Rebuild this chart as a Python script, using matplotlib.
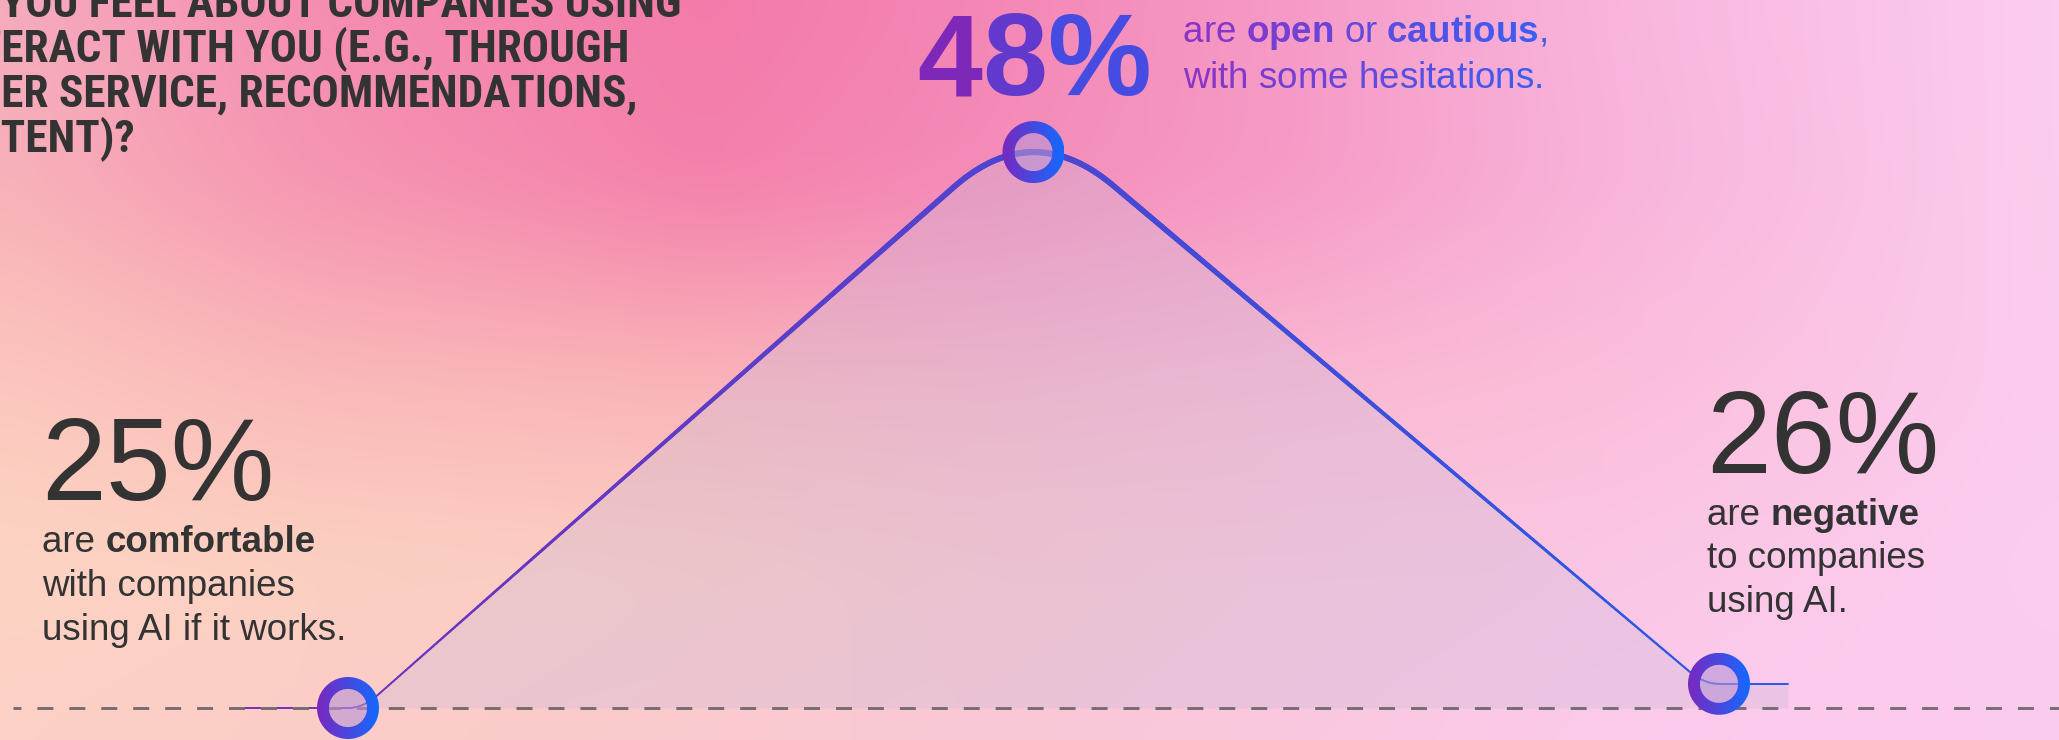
import numpy as np
import matplotlib
matplotlib.use("Agg")
import matplotlib.pyplot as plt
from matplotlib import font_manager
from matplotlib.collections import LineCollection
from matplotlib.patches import PathPatch, Polygon
from matplotlib.path import Path

# ------------------------------------------------------------------ data
segments = ["comfortable", "open or cautious", "negative"]
shares = [25, 48, 26]
share_labels = ["25%", "48%", "26%"]

question_lines = [
    "HOW DO YOU FEEL ABOUT COMPANIES USING",
    "AI TO INTERACT WITH YOU (E.G., THROUGH",
    "CUSTOMER SERVICE, RECOMMENDATIONS,",
    "CONTENT)?",
]
# characters of each question line that run off the left edge of the card
question_offscreen = [7, 9, 6, 3]

captions = [
    [[("are ", "normal"), ("comfortable", "bold")],
     [("with companies", "normal")],
     [("using AI if it works.", "normal")]],
    [[("are ", "normal"), ("open", "bold"), (" or ", "normal"),
      ("cautious", "bold"), (",", "normal")],
     [("with some hesitations.", "normal")]],
    [[("are ", "normal"), ("negative", "bold")],
     [("to companies", "normal")],
     [("using AI.", "normal")]],
]

# ---------------------------------------------------------------- layout
W, H, DPI = 2059, 740, 100
plt.rcParams["lines.scale_dashes"] = False

X0_PX, STEP_PX = 348.0, 685.5      # pixel column of first category, step
Y25_PX, PP_PX = 708.0, 24.17        # pixel row of the lowest share, px per point
v_low = min(shares)
XLIM = (-X0_PX / STEP_PX, (W - X0_PX) / STEP_PX)
YLIM = (v_low - (H - Y25_PX) / PP_PX, v_low + Y25_PX / PP_PX)
LEAD_PX, TAIL_PX = 118, 69          # flat run of the line before/after the points
EASE_PX = [0, 30, 80, 30, 0]        # rounding of the line at each knot

installed = {f.name for f in font_manager.fontManager.ttflist}


def families(*names):
    return [n for n in names if n in installed] + ["DejaVu Sans"]


SANS = families("Liberation Sans", "Arial")
CONDENSED = families("Roboto Condensed", "Open Sans Condensed",
                     "Liberation Sans Narrow", "Liberation Sans")
DARK = "#333333"

fig = plt.figure(figsize=(W / DPI, H / DPI), dpi=DPI)
ax = fig.add_axes([0, 0, 1, 1])
ax.axis("off")

# ------------------------------------------------------------ background
bg_x = [0, 300, 700, 1000, 1300, 1600, 2059]
bg_y = [0, 180, 390, 560, 740]
bg_rgb = np.array([
    [(245, 172, 190), (245, 142, 178), (243, 122, 170), (244, 135, 182), (246, 155, 200), (249, 180, 220), (252, 205, 240)],
    [(248, 178, 185), (246, 150, 178), (244, 128, 172), (244, 140, 185), (246, 155, 198), (248, 178, 218), (252, 205, 238)],
    [(252, 200, 190), (250, 187, 186), (250, 182, 184), (249, 180, 200), (250, 185, 210), (251, 190, 218), (252, 203, 238)],
    [(253, 212, 195), (252, 208, 193), (252, 204, 195), (250, 198, 205), (250, 198, 218), (251, 198, 228), (252, 205, 240)],
    [(252, 208, 198), (252, 205, 200), (251, 202, 208), (251, 200, 215), (251, 200, 225), (252, 202, 235), (252, 203, 240)],
], dtype=float) / 255.0

gx = np.linspace(0, W, 412)
gy = np.linspace(0, H, 148)
rows = np.stack([np.stack([np.interp(gx, bg_x, bg_rgb[r, :, c]) for c in range(3)], -1)
                 for r in range(len(bg_y))])
by = np.array(bg_y, float)
idx = np.clip(np.searchsorted(by, gy, side="right") - 1, 0, len(by) - 2)
w = ((gy - by[idx]) / (by[idx + 1] - by[idx]))[:, None, None]
bg = rows[idx] * (1 - w) + rows[idx + 1] * w


def blur(a, n, axis):
    k = np.ones(n) / n
    pad = [(0, 0)] * a.ndim
    pad[axis] = (n // 2, n - 1 - n // 2)
    a = np.pad(a, pad, mode="edge")
    return np.apply_along_axis(lambda v: np.convolve(v, k, mode="valid"), axis, a)


for _ in range(2):
    bg = blur(bg, 15, 0)
    bg = blur(bg, 15, 1)
ax.imshow(bg, extent=[XLIM[0], XLIM[1], YLIM[0], YLIM[1]], origin="upper",
          aspect="auto", interpolation="bicubic", zorder=0)


# ------------------------------------------------------------ line + fill
def eased_polyline(xs, ys, ease, n=400):
    """Straight segments whose ends flatten out over `ease` (x units) at each knot."""
    out_x, out_y = [], []
    for i in range(len(xs) - 1):
        x0, x1, y0, y1 = xs[i], xs[i + 1], ys[i], ys[i + 1]
        dx, dy = x1 - x0, y1 - y0
        e0, e1 = ease[i], ease[i + 1]
        m = dy / (dx - (e0 + e1) / 2)
        s = np.linspace(0, dx, n)
        if i < len(xs) - 2:
            s = s[:-1]
        v = m * (s - e0 / 2)
        if e0 > 0:
            k = s < e0
            v[k] = m * s[k] ** 2 / (2 * e0)
        if e1 > 0:
            k = s > dx - e1
            v[k] = dy - m * (dx - s[k]) ** 2 / (2 * e1)
        out_x.append(x0 + s)
        out_y.append(y0 + v)
    return np.concatenate(out_x), np.concatenate(out_y)


pos = np.arange(len(shares), dtype=float)
knots_x = np.r_[pos[0] - LEAD_PX / STEP_PX, pos, pos[-1] + TAIL_PX / STEP_PX]
knots_y = np.r_[shares[0], shares, shares[-1]]
cx, cy = eased_polyline(knots_x, knots_y, np.array(EASE_PX) / STEP_PX)

ax.fill_between(cx, cy, v_low, color=(0.80, 0.73, 0.85), alpha=0.33, lw=0, zorder=2)

pts = np.c_[cx, cy]
segs = np.stack([pts[:-1], pts[1:]], axis=1)
mx = (cx[:-1] + cx[1:]) / 2
my = (cy[:-1] + cy[1:]) / 2
f = (mx - cx[0]) / (cx[-1] - cx[0])
c_left = np.array([118, 45, 185]) / 255
c_right = np.array([38, 92, 232]) / 255
seg_colors = c_left[None, :] * (1 - f[:, None]) + c_right[None, :] * f[:, None]
h = (my - min(shares)) / (max(shares) - min(shares))
seg_widths = (1.7 + 4.3 * h) * 72 / DPI
ax.add_collection(LineCollection(segs, colors=seg_colors, linewidths=seg_widths,
                                 capstyle="round", joinstyle="round", zorder=3))

# dashed baseline
ax.plot([(13 - X0_PX) / STEP_PX, XLIM[1]], [v_low, v_low], color=(0.47, 0.43, 0.45),
        lw=3 * 72 / DPI, linestyle=(5.8, (11.5, 11.5)), dash_capstyle="butt", zorder=3.5)


# ---------------------------------------------------------------- markers
def circle_xy(x, y, r_px, reverse=False):
    th = np.linspace(0, 2 * np.pi, 120)
    if reverse:
        th = th[::-1]
    return np.c_[x + r_px * np.cos(th) / STEP_PX, y + r_px * np.sin(th) / PP_PX]


ring_grad = np.linspace(0, 1, 64)[:, None]
ring_left = np.array([122, 40, 190]) / 255
ring_right = np.array([20, 105, 255]) / 255
ring_img = (ring_left * (1 - ring_grad) + ring_right * ring_grad)[None, :, :]

R_OUT, R_IN = 31, 19
for xi, v in zip(pos, shares):
    ax.add_patch(Polygon(circle_xy(xi, v, R_IN), closed=True, fc=(0.72, 0.58, 0.84),
                         alpha=0.6, ec="none", zorder=5))
    outer = circle_xy(xi, v, R_OUT)
    inner = circle_xy(xi, v, R_IN, reverse=True)
    verts = np.r_[outer, inner]
    codes = ([Path.MOVETO] + [Path.LINETO] * (len(outer) - 2) + [Path.CLOSEPOLY]) * 2
    clip = PathPatch(Path(verts, codes), transform=ax.transData, fc="none", ec="none")
    ax.add_patch(clip)
    im = ax.imshow(ring_img, extent=[xi - R_OUT / STEP_PX, xi + R_OUT / STEP_PX,
                                     v - R_OUT / PP_PX, v + R_OUT / PP_PX],
                   aspect="auto", interpolation="bilinear", zorder=6)
    im.set_clip_path(clip)

ax.set_xlim(*XLIM)
ax.set_ylim(*YLIM)

# ------------------------------------------------------------------ texts
renderer = fig.canvas.get_renderer()


def put(x_px, y_px, s, **kw):
    return fig.text(x_px / W, 1 - y_px / H, s, ha="left", va="baseline", **kw)


def advance(s, **kw):
    a = put(0, 0, "H" + s + "H", **kw)
    b = put(0, 0, "HH", **kw)
    wd = a.get_window_extent(renderer).width - b.get_window_extent(renderer).width
    a.remove()
    b.remove()
    return wd


def lerp_color(c0, c1, t):
    t = min(max(t, 0.0), 1.0)
    return tuple((np.array(c0) * (1 - t) + np.array(c1) * t) / 255)


def draw_runs(x, y, runs, size, family, color=None, grad=None):
    """Draw a line made of (text, weight) runs; grad=(x_from, x_to, c0, c1)."""
    cur = x
    for text, weight in runs:
        props = dict(fontsize=size, family=family, fontweight=weight)
        if grad is None:
            put(cur, y, text, color=color, **props)
            cur += advance(text, **props)
        else:
            for ch in text:
                if ch != " ":
                    t = (cur - grad[0]) / (grad[1] - grad[0])
                    put(cur, y, ch, color=lerp_color(grad[2], grad[3], t), **props)
                cur += advance(ch, **props)
    return cur


# question, running off the top-left corner
for line, hidden, base in zip(question_lines, question_offscreen, [17, 62, 107, 152]):
    props = dict(fontsize=32.6, family=CONDENSED, fontweight="bold")
    x = 1 - advance(line[:hidden], **props)
    put(x, base, line, color=DARK, **props)

# big shares and captions
BIG = 84
BODY = 26.5
draw_runs(41, 500, [(share_labels[0], "normal")], BIG, SANS, color=DARK)
for runs, base in zip(captions[0], [552, 596, 640]):
    draw_runs(42, base, runs, BODY, SANS, color=DARK)

draw_runs(1706, 473, [(share_labels[2], "normal")], BIG, SANS, color=DARK)
for runs, base in zip(captions[2], [525, 568, 612]):
    draw_runs(1707, base, runs, BODY, SANS, color=DARK)

draw_runs(917, 95, [(share_labels[1], "bold")], 84, SANS,
          grad=(917, 1140, (125, 40, 185), (30, 100, 255)))
for runs, base in zip(captions[1], [42, 88]):
    draw_runs(1183, base, runs, BODY, SANS,
              grad=(1183, 1550, (138, 52, 198), (50, 98, 245)))

fig.savefig("out.png", dpi=DPI)
